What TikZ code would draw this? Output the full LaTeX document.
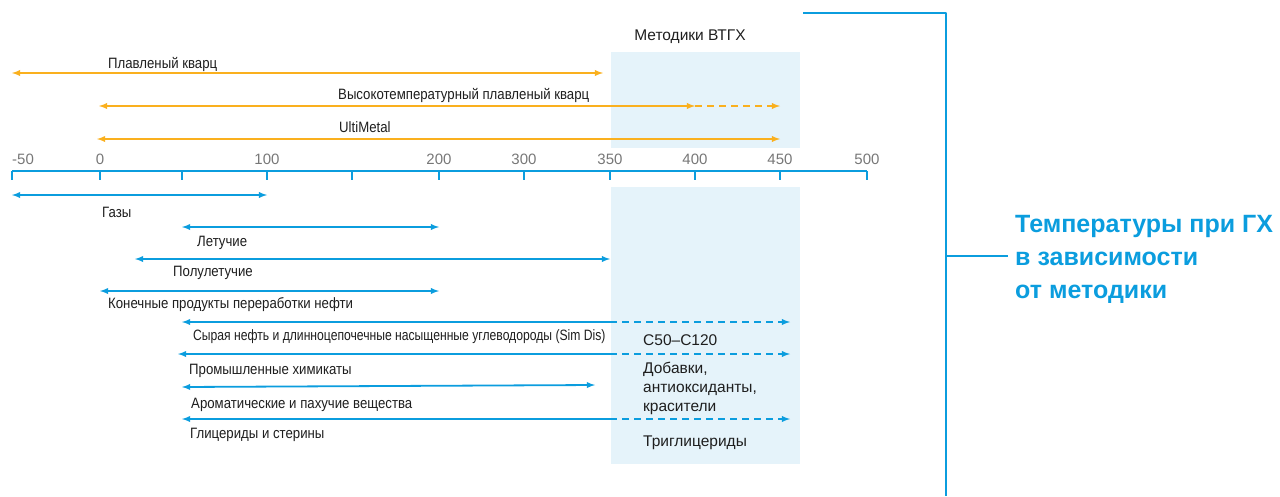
\documentclass[tikz,border=0pt]{standalone}
\usepackage{fontspec}
\setmainfont{Liberation Sans}
\newfontfamily\condfont[FakeStretch=0.88]{Liberation Sans}
\newfontfamily\tightfont[FakeStretch=0.81]{Liberation Sans}
\definecolor{gxblue}{HTML}{0B9DDE}
\definecolor{gxorange}{HTML}{FAB01E}
\definecolor{gxshade}{HTML}{E5F3FA}
\definecolor{gxgray}{HTML}{777777}
\definecolor{gxtext}{HTML}{1E1E1E}

\begin{document}
\begin{tikzpicture}[>=latex,line join=bevel,x=1pt,y=-1pt,
  rangebar/.style={<->,line width=1.8pt},
  leftbar/.style={<-,line width=1.8pt},
  extbar/.style={->,line width=1.8pt,dash pattern=on 7pt off 5pt},
  rowlabel/.style={anchor=base west,inner sep=0pt,text=gxtext,font=\condfont\fontsize{15}{17}\selectfont},
  ticklabel/.style={anchor=base,inner sep=0pt,text=gxgray,font=\fontsize{15}{18}\selectfont},
  boxlabel/.style={anchor=base west,inner sep=0pt,align=left,text=gxtext,font=\fontsize{15.5}{19}\selectfont}]
\useasboundingbox (0,0) rectangle (1280,496);
%%
% Area: high-temperature methods
\fill[gxshade] (611,52) rectangle (800,148);
\fill[gxshade] (611,187) rectangle (800,464);
\node[boxlabel,anchor=base] (methods) at (690,40.5) {Методики ВТГХ};
%%
% Axis
\draw[gxblue,line width=2.6pt] (12,171) -- (867,171);
\foreach \x in {12,100,182,267,352,439,524,610,695,780,867}
  \draw[gxblue,line width=1.3pt] (\x,171) -- (\x,180);
\node[ticklabel,anchor=base west] (t-50) at (12,164) {-50};
\foreach \v/\x in {0/100,100/267,200/439,300/524,350/610,400/695,450/780,500/867}
  \node[ticklabel] (t\v) at (\x,164) {\v};
%%
\begin{scope}[gxorange]
  % Edge: fused quartz
  \coordinate (fq-l) at (12,73);
  \coordinate (fq-r) at (603,73);
  \draw[rangebar] (fq-l) -- (fq-r);
  \node[rowlabel] (fq) at (108,68) {Плавленый кварц};
  % Edge: high-temperature fused quartz
  \coordinate (htq-l) at (99,106);
  \coordinate (htq-m) at (695,106);
  \coordinate (htq-r) at (780,106);
  \draw[rangebar] (htq-l) -- (htq-m);
  \draw[extbar] (htq-m) -- (htq-r);
  \node[rowlabel] (htq) at (338,99) {Высокотемпературный плавленый кварц};
  % Edge: UltiMetal
  \coordinate (um-l) at (97,139);
  \coordinate (um-r) at (780,139);
  \draw[rangebar] (um-l) -- (um-r);
  \node[rowlabel] (um) at (339,132) {UltiMetal};
\end{scope}
%%
\begin{scope}[gxblue]
  % Edge: gases
  \coordinate (gas-l) at (12,195);
  \coordinate (gas-r) at (267,195);
  \draw[rangebar] (gas-l) -- (gas-r);
  \node[rowlabel] (gas) at (102,217) {Газы};
  % Edge: volatiles
  \coordinate (vol-l) at (182,227);
  \coordinate (vol-r) at (439,227);
  \draw[rangebar] (vol-l) -- (vol-r);
  \node[rowlabel] (vol) at (197,246) {Летучие};
  % Edge: semivolatiles
  \coordinate (svol-l) at (135,259);
  \coordinate (svol-r) at (610,259);
  \draw[rangebar] (svol-l) -- (svol-r);
  \node[rowlabel] (svol) at (173,276) {Полулетучие};
  % Edge: refinery end products
  \coordinate (ref-l) at (100,291);
  \coordinate (ref-r) at (439,291);
  \draw[rangebar] (ref-l) -- (ref-r);
  \node[rowlabel] (ref) at (108,308) {Конечные продукты переработки нефти};
  % Edge: crude oil
  \coordinate (crude-l) at (182,322);
  \coordinate (crude-m) at (610,322);
  \coordinate (crude-r) at (790,322);
  \draw[leftbar] (crude-l) -- (crude-m);
  \draw[extbar] (crude-m) -- (crude-r);
  \node[rowlabel,font=\tightfont\fontsize{15}{17}\selectfont] (crude) at (193,340) {Сырая нефть и длинноцепочечные насыщенные углеводороды (Sim Dis)};
  % Edge: industrial chemicals
  \coordinate (chem-l) at (178,354);
  \coordinate (chem-m) at (610,354);
  \coordinate (chem-r) at (790,354);
  \draw[leftbar] (chem-l) -- (chem-m);
  \draw[extbar] (chem-m) -- (chem-r);
  \node[rowlabel] (chem) at (189,374) {Промышленные химикаты};
  % Edge: aromatics
  \coordinate (aro-l) at (182,387);
  \coordinate (aro-r) at (595,385);
  \draw[rangebar] (aro-l) -- (aro-r);
  \node[rowlabel] (aro) at (191,408) {Ароматические и пахучие вещества};
  % Edge: glycerides
  \coordinate (gly-l) at (182,419);
  \coordinate (gly-m) at (610,419);
  \coordinate (gly-r) at (790,419);
  \draw[leftbar] (gly-l) -- (gly-m);
  \draw[extbar] (gly-m) -- (gly-r);
  \node[rowlabel] (gly) at (190,438) {Глицериды и стерины};
\end{scope}
%%
% Node: texts in the area
\node[boxlabel] (c50) at (643,345.5) {C50–C120};
\node[boxlabel] (add) at (643,411.5) {Добавки,\\антиоксиданты,\\красители};
\node[boxlabel] (trig) at (643,446.5) {Триглицериды};
%%
% Bracket and title
\coordinate (br-start) at (803,13);
\coordinate (br-top) at (946,13);
\coordinate (br-end) at (946,496);
\coordinate (br-mid) at (946,256);
\coordinate (br-tick) at (1008,256);
\draw[gxblue,line width=2pt] (br-start) -- (br-top) -- (br-end);
\draw[gxblue,line width=2pt] (br-mid) -- (br-tick);
\node[anchor=base west,inner sep=0pt,align=left,text=gxblue,font=\bfseries\fontsize{25}{33}\selectfont] (title) at (1015,298) {Температуры при ГХ\\в зависимости\\от методики};
%
\end{tikzpicture}
\end{document}
